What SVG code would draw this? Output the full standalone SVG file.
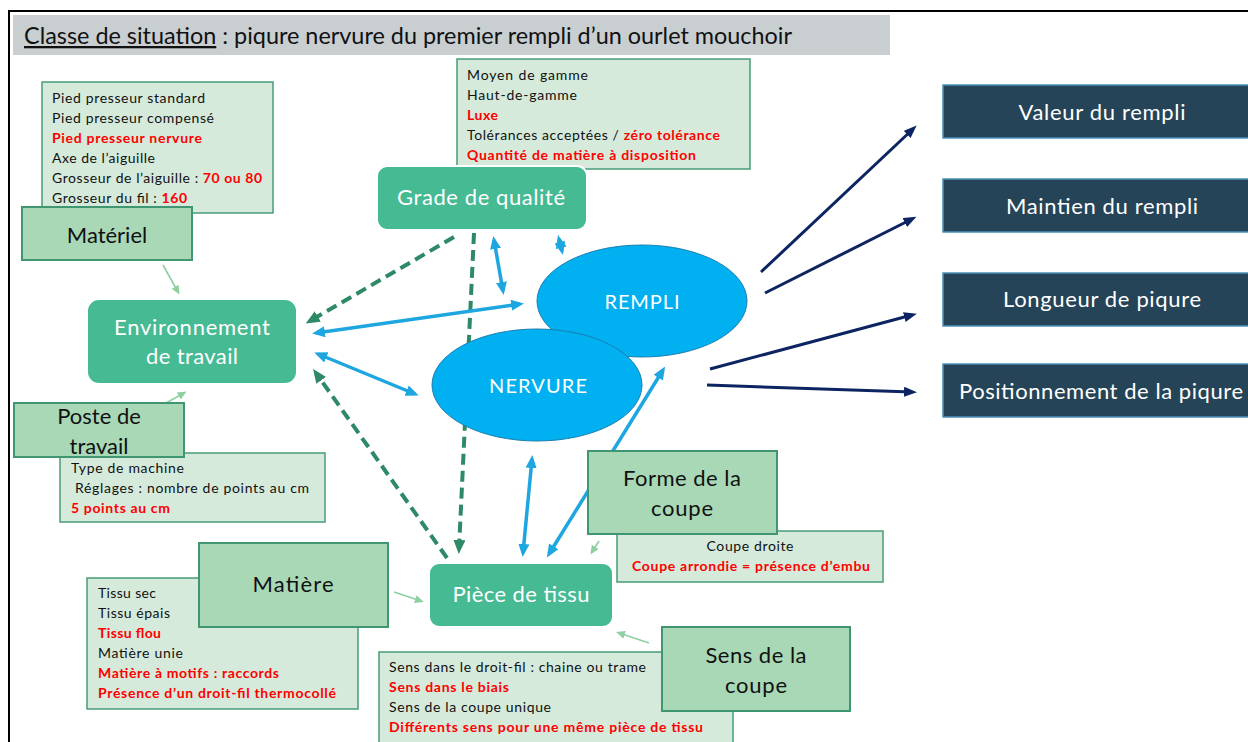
<svg xmlns="http://www.w3.org/2000/svg" width="1248" height="742" viewBox="0 0 1248 742">
<style>
text{font-family:Lato,"Open Sans","Liberation Sans",sans-serif;}
.info{fill:#d5eadb;stroke:#4a9c78;stroke-width:1.5;}
.lab{fill:#a8d8b6;stroke:#3f9670;stroke-width:2;}
.rnd{fill:#45ba93;stroke:#ffffff;stroke-width:2;}
.ell{fill:#00b0f0;stroke:#1b7fb0;stroke-width:1;}
.out{fill:#264457;stroke:#4a90b8;stroke-width:1.5;}
.t14{font-size:14px;fill:#111;}
.red{fill:#ff0000;font-weight:bold;}
.t22{font-size:22px;fill:#111;text-anchor:middle;}
.w22{font-size:22px;fill:#ffffff;text-anchor:middle;}
.w20{font-size:20px;fill:#ffffff;text-anchor:middle;}
.blue{stroke:#1ea6e0;stroke-width:3.5;fill:none;marker-end:url(#mb);marker-start:url(#mb);}
.dash{stroke:#2e8a66;stroke-width:4;stroke-dasharray:11 6;fill:none;marker-end:url(#mg);}
.navy{stroke:#0c2461;stroke-width:3;fill:none;marker-end:url(#mn);}
.lite{stroke:#8fd0a0;stroke-width:1.6;fill:none;marker-end:url(#ml);}
</style>
<defs>
<marker id="mb" markerUnits="userSpaceOnUse" markerWidth="14" markerHeight="12" refX="9" refY="5.5" orient="auto-start-reverse"><path d="M0,0 L13,5.5 L0,11 z" fill="#1ea6e0"/></marker>
<marker id="mg" markerUnits="userSpaceOnUse" markerWidth="15" markerHeight="13" refX="9" refY="6" orient="auto"><path d="M0,0 L14,6 L0,12 z" fill="#2e8a66"/></marker>
<marker id="mn" markerUnits="userSpaceOnUse" markerWidth="14" markerHeight="11" refX="8" refY="5" orient="auto"><path d="M0,0 L13,5 L0,10 z" fill="#0c2461"/></marker>
<marker id="ml" markerUnits="userSpaceOnUse" markerWidth="10" markerHeight="9" refX="6" refY="4" orient="auto"><path d="M0,0 L9,4 L0,8 z" fill="#8fd0a0"/></marker>
</defs>
<rect x="0" y="0" width="1248" height="742" fill="#ffffff"/>
<rect x="9" y="11" width="1250" height="740" fill="none" stroke="#000" stroke-width="2"/>
<g id="title">
<rect x="13" y="15" width="877" height="40" fill="#c9ced1"/>
<text x="24" y="44" font-size="23" fill="#111" textLength="768" lengthAdjust="spacingAndGlyphs"><tspan text-decoration="underline">Classe de situation</tspan> : piqure nervure du premier rempli d’un ourlet mouchoir</text>
</g>
<g id="connectors">
<line class="dash" x1="454" y1="237" x2="310" y2="321"/>
<line class="dash" x1="474" y1="233" x2="459" y2="549"/>
<line class="dash" x1="447" y1="558" x2="316" y2="373"/>
<line class="blue" x1="316" y1="333" x2="520" y2="304"/>
<line class="blue" x1="318" y1="354" x2="415" y2="394"/>
<line class="blue" x1="494" y1="240" x2="503" y2="291"/>
<line class="blue" x1="559" y1="239" x2="562" y2="251"/>
<line class="blue" x1="532" y1="459" x2="523" y2="553"/>
<line class="blue" x1="549" y1="554" x2="663" y2="370"/>
<line class="navy" x1="761" y1="272" x2="913" y2="129"/>
<line class="navy" x1="765" y1="293" x2="912" y2="219"/>
<line class="navy" x1="710" y1="369" x2="912" y2="315"/>
<line class="navy" x1="707" y1="385" x2="912" y2="392"/>
<line class="lite" x1="163" y1="265" x2="178" y2="292"/>
<line class="lite" x1="166" y1="403" x2="184" y2="393"/>
<line class="lite" x1="394" y1="592" x2="421" y2="601"/>
<line class="lite" x1="599" y1="541" x2="592" y2="552"/>
<line class="lite" x1="649" y1="643" x2="619" y2="633"/>
</g>
<g id="materiel-info">
<rect class="info" x="42" y="82" width="231" height="131"/>
<text class="t14" x="52" y="103" textLength="153">Pied presseur standard</text>
<text class="t14" x="52" y="123" textLength="162">Pied presseur compensé</text>
<text class="t14 red" x="52" y="143" textLength="150">Pied presseur nervure</text>
<text class="t14" x="52" y="163" textLength="103">Axe de l’aiguille</text>
<text class="t14" x="52" y="183" textLength="210">Grosseur de l’aiguille : <tspan class="red">70 ou 80</tspan></text>
<text class="t14" x="52" y="203" textLength="135">Grosseur du fil : <tspan class="red">160</tspan></text>
</g>
<g id="materiel">
<rect class="lab" x="22" y="207" width="170" height="53"/>
<text class="t22" x="107" y="243">Matériel</text>
</g>
<g id="environnement">
<rect class="rnd" x="87" y="299" width="210" height="85" rx="12"/>
<text class="w22" x="192" y="335" textLength="156">Environnement</text>
<text class="w22" x="192" y="364" textLength="92">de travail</text>
</g>
<g id="poste-info">
<rect class="info" x="60" y="453" width="265" height="69"/>
<text class="t14" x="71" y="473" textLength="113">Type de machine</text>
<text class="t14" x="75" y="493" textLength="234">Réglages : nombre de points au cm</text>
<text class="t14 red" x="71" y="513" textLength="99">5 points au cm</text>
</g>
<g id="poste">
<rect class="lab" x="14" y="403" width="170" height="54"/>
<text class="t22" x="99" y="424">Poste de</text>
<text class="t22" x="99" y="454">travail</text>
</g>
<g id="grade-info">
<rect class="info" x="457" y="59" width="293" height="110"/>
<text class="t14" x="467" y="80" textLength="121">Moyen de gamme</text>
<text class="t14" x="467" y="100" textLength="110">Haut-de-gamme</text>
<text class="t14 red" x="467" y="120" textLength="31">Luxe</text>
<text class="t14" x="467" y="140" textLength="253">Tolérances acceptées / <tspan class="red">zéro tolérance</tspan></text>
<text class="t14 red" x="467" y="160" textLength="229">Quantité de matière à disposition</text>
</g>
<g id="grade">
<rect class="rnd" x="377" y="166" width="210" height="64" rx="10"/>
<text class="w22" x="481" y="205" textLength="168">Grade de qualité</text>
</g>
<g id="rempli">
<ellipse class="ell" cx="642" cy="301" rx="105" ry="56"/>
<text class="w20" x="642" y="309" textLength="75">REMPLI</text>
</g>
<g id="nervure">
<ellipse class="ell" cx="537" cy="385" rx="105" ry="56"/>
<text class="w20" x="538" y="393" textLength="98">NERVURE</text>
</g>
<g id="forme-info">
<rect class="info" x="617" y="531" width="266" height="51"/>
<text class="t14" x="750" y="551" text-anchor="middle" textLength="87">Coupe droite</text>
<text class="t14 red" x="751" y="571" text-anchor="middle" textLength="238">Coupe arrondie = présence d’embu</text>
</g>
<g id="forme">
<rect class="lab" x="588" y="451" width="189" height="83"/>
<text class="t22" x="682" y="486" textLength="118">Forme de la</text>
<text class="t22" x="682" y="516" textLength="62">coupe</text>
</g>
<g id="matiere-info">
<rect class="info" x="87" y="578" width="271" height="131"/>
<text class="t14" x="98" y="598" textLength="58">Tissu sec</text>
<text class="t14" x="98" y="618" textLength="72">Tissu épais</text>
<text class="t14 red" x="98" y="638" textLength="63">Tissu flou</text>
<text class="t14" x="98" y="658" textLength="85">Matière unie</text>
<text class="t14 red" x="98" y="678" textLength="181">Matière à motifs : raccords</text>
<text class="t14 red" x="98" y="698" textLength="238">Présence d’un droit-fil thermocollé</text>
</g>
<g id="matiere">
<rect class="lab" x="199" y="543" width="189" height="84"/>
<text class="t22" x="293" y="592" textLength="81">Matière</text>
</g>
<g id="piece">
<rect class="rnd" x="429" y="563" width="184" height="64" rx="10"/>
<text class="w22" x="521" y="602" textLength="137">Pièce de tissu</text>
</g>
<g id="sens-info">
<rect class="info" x="379" y="652" width="354" height="100"/>
<text class="t14" x="389" y="672" textLength="257">Sens dans le droit-fil : chaine ou trame</text>
<text class="t14 red" x="389" y="692" textLength="120">Sens dans le biais</text>
<text class="t14" x="389" y="712" textLength="162">Sens de la coupe unique</text>
<text class="t14 red" x="389" y="732" textLength="314">Différents sens pour une même pièce de tissu</text>
</g>
<g id="sens">
<rect class="lab" x="662" y="627" width="188" height="84"/>
<text class="t22" x="756" y="663" textLength="101">Sens de la</text>
<text class="t22" x="756" y="693" textLength="62">coupe</text>
</g>
<g id="valeur">
<rect class="out" x="943" y="85" width="320" height="53"/>
<text class="w22" x="1102" y="120" textLength="167">Valeur du rempli</text>
</g>
<g id="maintien">
<rect class="out" x="943" y="179" width="320" height="53"/>
<text class="w22" x="1102" y="214" textLength="192">Maintien du rempli</text>
</g>
<g id="longueur">
<rect class="out" x="943" y="273" width="320" height="53"/>
<text class="w22" x="1102" y="307" textLength="198">Longueur de piqure</text>
</g>
<g id="positionnement">
<rect class="out" x="943" y="364" width="320" height="53"/>
<text class="w22" x="1101" y="399" textLength="284">Positionnement de la piqure</text>
</g>
</svg>
